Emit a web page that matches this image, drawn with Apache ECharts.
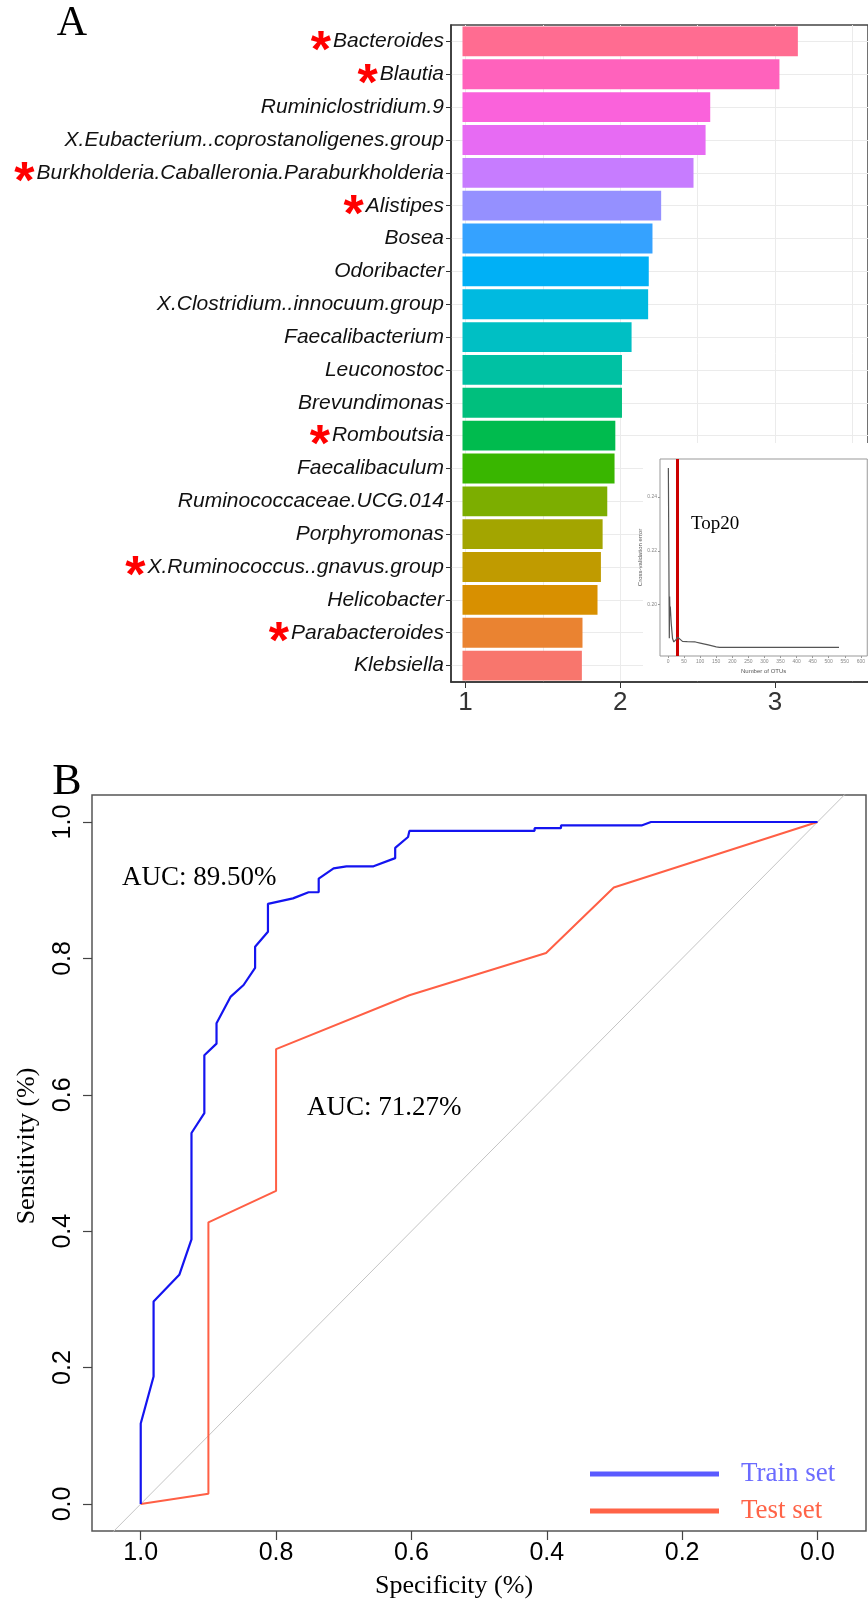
<!DOCTYPE html>
<html>
<head>
<meta charset="utf-8">
<title>Top20 genera / ROC</title>
<script src="https://cdn.jsdelivr.net/npm/echarts@6.0.0/dist/echarts.min.js"></script>
<style>
html, body { margin: 0; padding: 0; background: #fff; }
#main { width: 868px; height: 1601px; }
</style>
</head>
<body>
<div id="main"></div>
<script>
// ---- panel A : importance of the top 20 genera (top -> bottom)
var genusNames = ["Bacteroides", "Blautia", "Ruminiclostridium.9", "X.Eubacterium..coprostanoligenes.group",
	"Burkholderia.Caballeronia.Paraburkholderia", "Alistipes", "Bosea", "Odoribacter",
	"X.Clostridium..innocuum.group", "Faecalibacterium", "Leuconostoc", "Brevundimonas", "Romboutsia",
	"Faecalibaculum", "Ruminococcaceae.UCG.014", "Porphyromonas", "X.Ruminococcus..gnavus.group",
	"Helicobacter", "Parabacteroides", "Klebsiella"];
var genusMarked = [1, 1, 0, 0, 1, 1, 0, 0, 0, 0, 0, 0, 1, 0, 0, 0, 1, 0, 1, 0];
var importance = [3.147, 3.028, 2.581, 2.551, 2.473, 2.264, 2.208, 2.184, 2.180, 2.073,
	2.011, 2.011, 1.968, 1.963, 1.916, 1.886, 1.875, 1.853, 1.756, 1.752];
var barColors = ["#FF6C91", "#FF62BC", "#FA62DB", "#E76BF3", "#C77CFF", "#9590FF", "#35A2FF", "#00B0F6",
	"#00BAE0", "#00BFC4", "#00C1A3", "#00BF7D", "#00BB4E", "#39B600", "#7CAE00", "#A3A500",
	"#C09B00", "#D89000", "#EA8331", "#F8766D"];
var impTicks = [1, 2, 3];
var impGrid = [1, 1.5, 2, 2.5, 3, 3.5];

// ---- inset : cross-validation error vs number of OTUs
var otuCount = [1, 4, 5, 6, 7, 10, 14, 18, 24, 30, 36, 45, 60, 85, 100, 125, 150, 160, 532];
var cvError = [0.2507, 0.1876, 0.2030, 0.1960, 0.1993, 0.1930, 0.1875, 0.1862, 0.1870, 0.1880,
	0.1875, 0.1864, 0.1863, 0.1862, 0.1858, 0.1851, 0.1844, 0.1842, 0.1842];
var otuTicks = [0, 50, 100, 150, 200, 250, 300, 350, 400, 450, 500, 550, 600];
var cvTicks = [0.20, 0.22, 0.24];
var topCut = 30;

// ---- panel B : ROC curves
var trainSpec = [1.000, 1.000, 0.981, 0.981, 0.943, 0.925, 0.925, 0.906, 0.906, 0.888, 0.888, 0.867,
	0.848, 0.831, 0.831, 0.812, 0.812, 0.775, 0.752, 0.737, 0.737, 0.715, 0.696, 0.656, 0.624, 0.624,
	0.605, 0.603, 0.418, 0.418, 0.379, 0.379, 0.260, 0.246, 0.000];
var trainSens = [0.000, 0.118, 0.187, 0.297, 0.336, 0.388, 0.544, 0.573, 0.658, 0.675, 0.705, 0.744,
	0.761, 0.786, 0.817, 0.839, 0.880, 0.888, 0.897, 0.897, 0.917, 0.932, 0.935, 0.935, 0.947, 0.962,
	0.978, 0.987, 0.987, 0.991, 0.991, 0.995, 0.995, 1.000, 1.000];
var testSpec = [1.0, 0.9, 0.9, 0.8, 0.8, 0.603, 0.401, 0.301, 0.0];
var testSens = [0.0, 0.015, 0.413, 0.459, 0.667, 0.746, 0.808, 0.904, 1.0];
var diagonal = [[1.2, -0.2], [-0.2, 1.2]];
var rocTicks = [0, 0.2, 0.4, 0.6, 0.8, 1.0];

var SANS = "Liberation Sans";
var SERIF = "Liberation Serif";
var barBase = 0.981; // bars start slightly left of 1, as in the original

function zip(a, b) {
	var out = [];
	for (var i = 0; i < a.length; i++) {
		out.push([a[i], b[i]]);
	}
	return out;
}

function AfterInit() {
	var myChart = echarts.init(document.getElementById("main"), null, {renderer: "canvas"});

	var baseData = [];
	var barData = [];
	for (var i = 0; i < importance.length; i++) {
		baseData.push(barBase);
		barData.push({value: importance[i] - barBase, itemStyle: {color: barColors[i]}});
	}

	var option = {
		backgroundColor: "#fff",
		animation: false,
		grid: [
			{left: 451, top: 25, right: -65, bottom: 919, show: true, borderColor: "#444", borderWidth: 1.5, backgroundColor: "#fff"},
			{left: 92, top: 795, right: 2, bottom: 70, show: true, borderColor: "#555", borderWidth: 1.5},
			// white patch behind the inset
			{left: 643, top: 443, right: -10, bottom: 920, show: true, borderWidth: 0, backgroundColor: "#fff", z: 3},
			{left: 660, top: 459, right: -7, bottom: 945, show: true, borderColor: "#999", borderWidth: 1, z: 4}
		],
		xAxis: [
			{gridIndex: 0, type: "value", position: "top", min: 0.9067, max: 3.6,
				axisLine: {show: false, onZero: false}, axisLabel: {show: false},
				axisTick: {show: false, customValues: impGrid},
				splitLine: {show: true, lineStyle: {color: "#EBEBEB", width: 1}}},
			{gridIndex: 0, type: "value", position: "bottom", min: 0.9067, max: 3.6,
				axisLine: {show: true, onZero: false, lineStyle: {color: "#333", width: 1.5}},
				axisTick: {show: true, length: 6, customValues: impTicks, lineStyle: {color: "#333"}},
				axisLabel: {customValues: impTicks, fontFamily: SANS, fontSize: 26, color: "#333", margin: 8},
				splitLine: {show: false}},
			{gridIndex: 1, type: "value", inverse: true, min: -0.0717, max: 1.072,
				axisLine: {show: false, onZero: false},
				axisTick: {show: true, length: 9, customValues: rocTicks, lineStyle: {color: "#444", width: 1.2}},
				axisLabel: {customValues: rocTicks, fontFamily: SANS, fontSize: 25, color: "#000", margin: 10,
					formatter: function (v) { return v.toFixed(1); }},
				splitLine: {show: false}},
			{gridIndex: 2, type: "value", show: false, min: 0, max: 1},
			{gridIndex: 3, type: "value", min: -25, max: 620, z: 5,
				axisLine: {show: false, onZero: false},
				axisTick: {show: true, length: 2, customValues: otuTicks, lineStyle: {color: "#999"}},
				axisLabel: {customValues: otuTicks, fontFamily: SANS, fontSize: 5, color: "#888", margin: 3},
				splitLine: {show: false},
				name: "Number of OTUs", nameLocation: "middle", nameGap: 12,
				nameTextStyle: {fontFamily: SANS, fontSize: 6, color: "#555"}}
		],
		yAxis: [
			{gridIndex: 0, type: "category", inverse: true, data: genusNames,
				axisLine: {show: true, onZero: false, lineStyle: {color: "#333", width: 1.5}},
				axisTick: {show: true, alignWithLabel: true, length: 5, lineStyle: {color: "#333"}},
				splitLine: {show: true, alignWithLabel: true, lineStyle: {color: "#EBEBEB", width: 1}},
				axisLabel: {
					margin: 7,
					interval: 0,
					showMinLabel: true,
					showMaxLabel: true,
					hideOverlap: false,
					formatter: function (v) {
						var pos = genusNames.indexOf(v);
						return (genusMarked[pos] ? "{s|*}" : "") + "{n|" + v + "}";
					},
					rich: {
						n: {fontFamily: SANS, fontStyle: "italic", fontSize: 21, color: "#111"},
						s: {fontFamily: SANS, fontWeight: "bold", fontSize: 52, color: "#FF0000", padding: [22, 2, 0, 0]}
					}
				}},
			{gridIndex: 1, type: "value", min: -0.0396, max: 1.0396,
				axisLine: {show: false, onZero: false},
				axisTick: {show: true, length: 9, customValues: rocTicks, lineStyle: {color: "#444", width: 1.2}},
				axisLabel: {customValues: rocTicks, rotate: 90, fontFamily: SANS, fontSize: 25, color: "#000", margin: 16,
					formatter: function (v) { return v.toFixed(1); }},
				splitLine: {show: false}},
			{gridIndex: 2, type: "value", show: false, min: 0, max: 1},
			{gridIndex: 3, type: "value", min: 0.181, max: 0.254, z: 5,
				axisLine: {show: false, onZero: false},
				axisTick: {show: true, length: 2, customValues: cvTicks, lineStyle: {color: "#999"}},
				axisLabel: {customValues: cvTicks, fontFamily: SANS, fontSize: 5, color: "#888", margin: 3,
					formatter: function (v) { return v.toFixed(2); }},
				splitLine: {show: false},
				name: "Cross-validation error", nameLocation: "middle", nameGap: 12,
				nameTextStyle: {fontFamily: SANS, fontSize: 6, color: "#555"}}
		],
		legend: {
			orient: "vertical", left: 585, top: 1454,
			itemWidth: 129, itemHeight: 5, itemGap: 7, icon: "rect",
			textStyle: {fontFamily: SERIF, fontSize: 27, lineHeight: 30, padding: [0, 0, 0, 17]},
			data: [
				{name: "Train set", itemStyle: {color: "#5A5AFF"}, textStyle: {color: "#6B6BFF"}},
				{name: "Test set", itemStyle: {color: "#FF6347"}, textStyle: {color: "#FF6347"}}
			]
		},
		graphic: [
			{type: "text", x: 72, y: 24, z: 10, style: {text: "A", fontFamily: SERIF, fontSize: 42, fill: "#000", align: "center", verticalAlign: "middle"}},
			{type: "text", x: 67, y: 782, z: 10, style: {text: "B", fontFamily: SERIF, fontSize: 44, fill: "#000", align: "center", verticalAlign: "middle"}},
			{type: "text", x: 691, y: 524, z: 10, style: {text: "Top20", fontFamily: SERIF, fontSize: 19, fill: "#000", align: "left", verticalAlign: "middle"}},
			{type: "text", x: 122, y: 878, z: 10, style: {text: "AUC: 89.50%", fontFamily: SERIF, fontSize: 27, fill: "#000", align: "left", verticalAlign: "middle"}},
			{type: "text", x: 307, y: 1108, z: 10, style: {text: "AUC: 71.27%", fontFamily: SERIF, fontSize: 27, fill: "#000", align: "left", verticalAlign: "middle"}},
			{type: "text", x: 454, y: 1586, z: 10, style: {text: "Specificity (%)", fontFamily: SERIF, fontSize: 26, fill: "#000", align: "center", verticalAlign: "middle"}},
			{type: "text", x: 27, y: 1146, z: 10, rotation: Math.PI / 2, style: {text: "Sensitivity (%)", fontFamily: SERIF, fontSize: 26, fill: "#000", align: "center", verticalAlign: "middle"}}
		],
		series: [
			{type: "bar", xAxisIndex: 0, yAxisIndex: 0, stack: "imp", data: baseData, silent: true,
				itemStyle: {color: "rgba(0,0,0,0)"}, barWidth: "91%"},
			{type: "bar", xAxisIndex: 0, yAxisIndex: 0, stack: "imp", data: barData, barWidth: "91%"},
			{type: "line", name: "diag", xAxisIndex: 2, yAxisIndex: 1, data: diagonal, symbol: "none", silent: true,
				lineStyle: {color: "#C4C4C4", width: 1}, z: 1},
			{type: "line", name: "Train set", xAxisIndex: 2, yAxisIndex: 1, data: zip(trainSpec, trainSens), symbol: "none",
				color: "#1414F0", lineStyle: {color: "#1414F0", width: 2.2}, z: 3},
			{type: "line", name: "Test set", xAxisIndex: 2, yAxisIndex: 1, data: zip(testSpec, testSens), symbol: "none",
				color: "#FF5F45", lineStyle: {color: "#FF5F45", width: 2}, z: 2},
			{type: "line", name: "cv", xAxisIndex: 4, yAxisIndex: 3, data: zip(otuCount, cvError), symbol: "none", z: 6,
				lineStyle: {color: "#555", width: 1.2},
				markLine: {symbol: "none", silent: true, label: {show: false},
					lineStyle: {color: "#CC0000", width: 3, type: "solid"},
					data: [{xAxis: topCut}]}}
		]
	};

	myChart.setOption(option);
}

AfterInit();
</script>
</body>
</html>
